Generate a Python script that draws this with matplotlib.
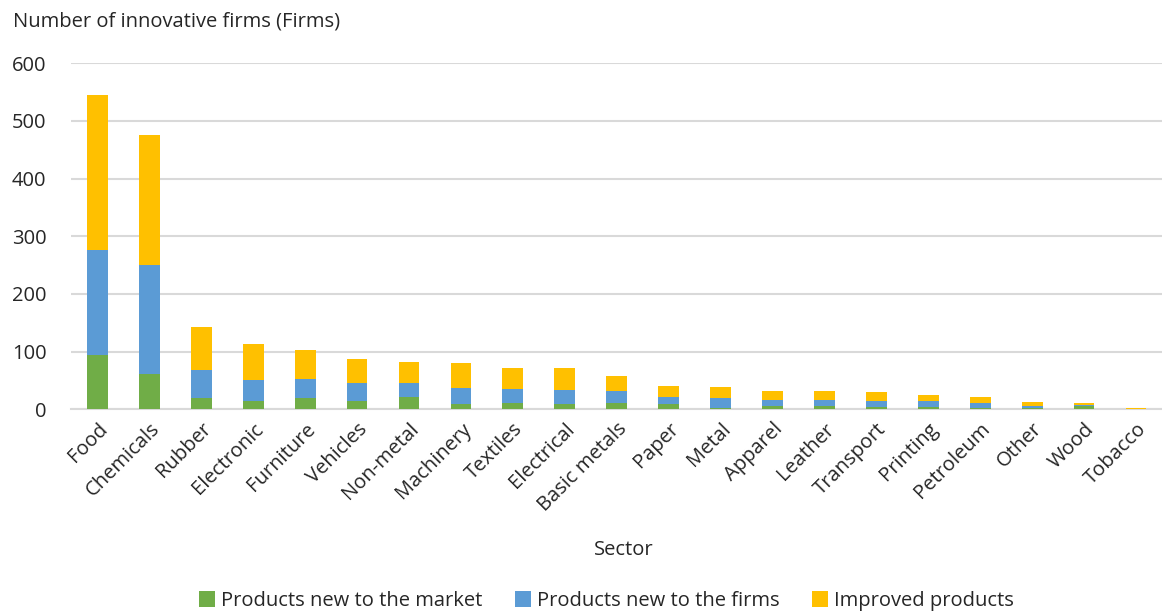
import matplotlib
matplotlib.use("Agg")
import matplotlib.pyplot as plt
import numpy as np

sectors = ["Food", "Chemicals", "Rubber", "Electronic", "Furniture", "Vehicles",
           "Non-metal", "Machinery", "Textiles", "Electrical", "Basic metals",
           "Paper", "Metal", "Apparel", "Leather", "Transport", "Printing",
           "Petroleum", "Other", "Wood", "Tobacco"]
new_market = [94, 62, 20, 14, 19, 14, 22, 10, 11, 9, 11, 10, 3, 6, 5, 4, 4, 3, 2, 5, 0]
new_firms = [182, 188, 49, 37, 33, 31, 24, 27, 24, 24, 21, 12, 17, 10, 11, 10, 10, 8, 4, 2, 0]
improved = [269, 225, 74, 63, 51, 42, 36, 44, 37, 39, 25, 18, 18, 15, 16, 16, 11, 10, 7, 4, 2]

plt.rcParams['font.family'] = ['Open Sans', 'DejaVu Sans']

fig = plt.figure(figsize=(11.62, 6.14), dpi=100)
ax = fig.add_axes([0.0615, 0.3334, 0.9385, 0.5635])

x = np.arange(len(sectors))
g = np.array(new_market)
b = np.array(new_firms)
y = np.array(improved)
w = 0.4
ax.bar(x, g, w, color="#70AD47", label="Products new to the market", zorder=3)
ax.bar(x, b, w, bottom=g, color="#5B9BD5", label="Products new to the firms", zorder=3)
ax.bar(x, y, w, bottom=g + b, color="#FFC000", label="Improved products", zorder=3)

ax.set_xlim(-0.5, len(sectors) - 0.5)
ax.set_ylim(0, 600)
ax.set_yticks(range(0, 601, 100))
ax.yaxis.grid(True, color="#d9d9d9", linewidth=1.5, zorder=0)
for s in ["top", "right", "left"]:
    ax.spines[s].set_visible(False)
ax.spines["bottom"].set_color("#d9d9d9")
ax.spines["bottom"].set_linewidth(1.5)
ax.tick_params(axis="both", length=0, labelsize=14.5, colors="#262626")
ax.tick_params(axis="y", pad=18)
ax.set_xticks(x)
ax.set_xticklabels(sectors, rotation=45, ha="right", rotation_mode="anchor")
ax.tick_params(axis="x", pad=7)

fig.text(0.011, 0.965, "Number of innovative firms (Firms)", fontsize=14.5,
         color="#262626", ha="left", va="center")
fig.text(0.537, 0.105, "Sector", fontsize=14.5, color="#262626", ha="center", va="center")

fig.legend(loc="center", bbox_to_anchor=(0.522, 0.021), ncol=3, frameon=False,
           fontsize=14.5, handlelength=0.8, handleheight=0.8, handletextpad=0.3,
           columnspacing=1.6, labelcolor="#262626")

fig.savefig("out.png", dpi=100)
